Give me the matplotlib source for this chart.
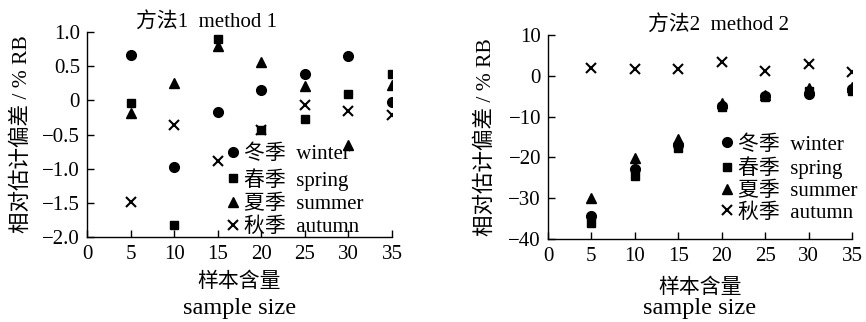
import matplotlib
matplotlib.use("Agg")
import matplotlib.pyplot as plt

plt.rcParams['font.family'] = ['Liberation Serif', 'Noto Sans CJK SC']
plt.rcParams['axes.unicode_minus'] = True

sample_size = [5, 10, 15, 20, 25, 30, 35]

m1_winter = [0.66, -0.98, -0.17, 0.15, 0.38, 0.65, -0.02]
m1_spring = [-0.04, -1.83, 0.90, -0.44, -0.28, 0.09, 0.38]
m1_summer = [-0.19, 0.25, 0.80, 0.56, 0.21, -0.66, 0.22]
m1_autumn = [-1.49, -0.36, -0.89, -0.44, -0.07, -0.16, -0.22]

m2_winter = [-34.3, -22.8, -17.0, -7.4, -5.0, -4.5, -3.3]
m2_spring = [-36.0, -24.6, -17.6, -7.6, -5.1, -3.7, -3.7]
m2_summer = [-29.9, -20.1, -15.6, -6.7, -4.8, -3.1, -2.7]
m2_autumn = [1.8, 1.6, 1.7, 3.3, 1.2, 2.8, 1.0]

season_labels = ["冬季  winter", "春季  spring", "夏季  summer", "秋季  autumn"]
titles = ["方法1  method 1", "方法2  method 2"]
xlabel_cn = "样本含量"
xlabel_en = "sample size"
ylabel = "相对估计偏差 / % RB"

m1_yticks = [1.0, 0.5, 0, -0.5, -1.0, -1.5, -2.0]
m1_yticklabels = ["1.0", "0.5", "0", "\u22120.5", "\u22121.0", "\u22121.5", "\u22122.0"]
m2_yticks = [10, 0, -10, -20, -30, -40]
m2_yticklabels = ["10", "0", "\u221210", "\u221220", "\u221230", "\u221240"]
xticks = [0, 5, 10, 15, 20, 25, 30, 35]

FS = 15

fig = plt.figure(figsize=(8.66, 3.22), dpi=100)
ax1 = fig.add_axes([87/866, (322-237)/322, 305/866, 205/322])
ax2 = fig.add_axes([548/866, (322-239)/322, 304/866, 204/322])

styles = [dict(marker='o', ms=7), dict(marker='s', ms=6.3), dict(marker='^', ms=7), dict(marker='x', ms=7, mew=1.5)]

def draw(ax, series, yticks, yticklabels, ylim, title, title_x, leg_anchor, leg_space, xl_y):
    for vals, st, lab in zip(series, styles, season_labels):
        ax.plot(sample_size, vals, linestyle='none', color='black', label=lab, **st)
    ax.set_xlim(0, 35)
    ax.set_ylim(*ylim)
    ax.set_xticks(xticks)
    ax.set_xticklabels([str(t) for t in xticks], fontsize=FS)
    ax.set_yticks(yticks)
    ax.set_yticklabels(yticklabels, fontsize=FS)
    ax.tick_params(direction='in', length=5, width=1)
    ax.tick_params(axis='x', pad=6)
    ax.tick_params(axis='y', pad=5)
    for s in ['top', 'right']:
        ax.spines[s].set_visible(False)
    for s in ['left', 'bottom']:
        ax.spines[s].set_linewidth(1)
    t = ax.set_title(title, fontsize=FS, pad=4)
    t.set_x(title_x)
    ax.text(0.5, xl_y[0], xlabel_cn, transform=ax.transAxes, ha='center', va='center', fontsize=FS)
    ax.text(0.5, xl_y[1], xlabel_en, transform=ax.transAxes, ha='center', va='center', fontsize=17.5)
    ax.set_ylabel(ylabel, fontsize=15.5)
    ax.legend(loc='upper left', bbox_to_anchor=leg_anchor, frameon=False, fontsize=FS,
              borderpad=0, borderaxespad=0, handlelength=0.5, handletextpad=0.25,
              labelspacing=leg_space, markerscale=1.0)

draw(ax1, [m1_winter, m1_spring, m1_summer, m1_autumn], m1_yticks, m1_yticklabels,
     (-2.0, 1.0), titles[0], 0.393, (0.462, 0.45), 0.18, (-0.222, -0.35))
draw(ax2, [m2_winter, m2_spring, m2_summer, m2_autumn], m2_yticks, m2_yticklabels,
     (-40, 10), titles[1], 0.5625, (0.572, 0.51), 0.1, (-0.24, -0.34))

ax1.yaxis.set_label_coords(-0.18, 0.5)
ax2.yaxis.set_label_coords(-0.17, 0.5)

fig.savefig("out.png", dpi=100)
